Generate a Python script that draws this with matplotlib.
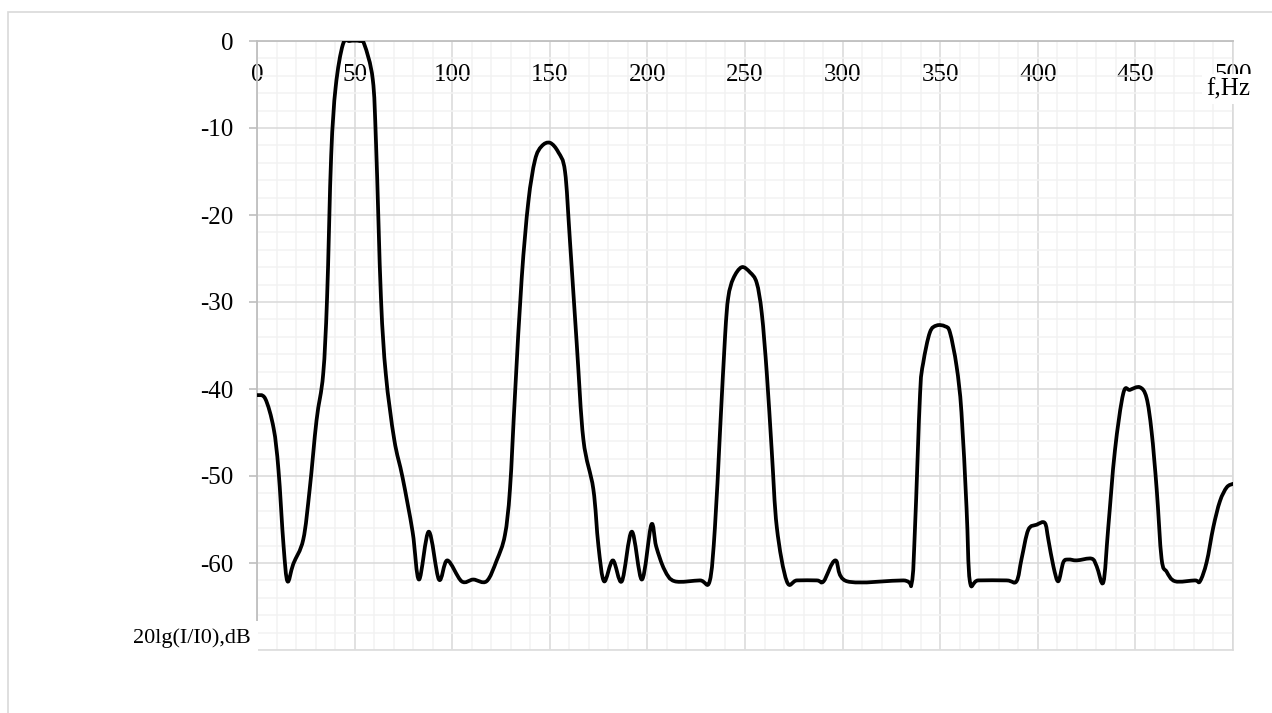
import matplotlib.pyplot as plt
from matplotlib.patches import Rectangle, PathPatch
from matplotlib.path import Path
from matplotlib.ticker import MultipleLocator

# values
freq_hz = [0, 4.2, 8.5, 11, 13.6, 15.6, 18.6, 23.7, 27, 30.5, 33.9, 35.9, 38, 40.3, 44, 47.5,
           52.5, 55, 59.3, 61, 63.5, 66, 70.3, 74.6, 79.7, 83, 88, 93.2, 97.5,
           104.8, 110.8, 117.6, 122.8, 127, 129.6, 132.2, 135.6, 139, 142.4, 145.8, 150.1,
           154.4, 157.8, 160.3, 163.8, 167.2, 172.3, 174.9, 177.8, 182.3, 186.9, 192, 197.2,
           202, 204.5, 208.8, 214, 226.9, 231.9, 234.6, 237.2, 239.8, 241.4, 244, 248.3,
           252.6, 256, 258.6, 261.2, 263.7, 266.3, 271.4, 276.6, 286.8, 290.3, 296.3, 302.2,
           331.1, 335.4, 337.1, 339.7, 341.3, 344.7, 348.2, 352.5, 355, 358.4, 360.9, 363.5,
           365.2, 369.5, 384, 389.1, 391.7, 395.1, 399.4, 403.6, 405.4, 408, 410.5, 413.1,
           415.7, 420, 427.6, 430.2, 433.6, 436.1, 439.5, 443.8, 447.2, 452.3, 455.7, 458.3,
           460.9, 463.4, 466, 470.3, 480.5, 483.1, 486.5, 489.9, 493.3, 496.8, 500]
level_db = [-40.7, -41.1, -44.5, -49.3, -58, -62.1, -60.1, -57.3, -51.5, -43.6, -38.3, -29.5,
            -13.2, -5.3, -0.4, 0, 0, -0.4, -4.4, -11.9, -29.5, -38.3, -45.8, -50.2, -56.4,
            -61.9, -56.4, -61.9, -59.7,
            -62.1, -61.9, -62.1, -59.7, -56.8, -51.5, -40.5, -27.3, -18.5, -13.7, -12.1, -11.7,
            -12.8, -15, -22.9, -34.8, -45.8, -51.5, -58, -62.1, -59.7, -62.1, -56.4, -61.9,
            -55.6, -58.1, -60.8, -62.1, -62, -62.1, -55.9, -44.9, -33.9, -29.5, -27.3, -26,
            -26.6, -27.8, -31.3, -38.3, -47.1, -55.9, -62.1, -62, -62, -62.1, -59.7, -62.1,
            -62, -62.3, -55.9, -40.5, -37, -33.5, -32.7, -32.8, -33.5, -37.4, -42.7, -53.7,
            -62.1, -62, -62, -62.1, -59.5, -56.2, -55.6, -55.4, -57.3, -60.4, -62.1, -59.9,
            -59.6, -59.7, -59.5, -60.4, -62.2, -55.9, -47.1, -40.5, -40.1, -39.8, -41, -44.9,
            -51.5, -59.5, -61, -62.1, -62, -62.1, -59.9, -55.9, -52.9, -51.3, -50.9]
x_ticks = [0, 50, 100, 150, 200, 250, 300, 350, 400, 450, 500]
y_ticks = [0, -10, -20, -30, -40, -50, -60]

W, H = 1272, 713
fig = plt.figure(figsize=(W / 100, H / 100), dpi=100)
plt.rcParams['font.family'] = ['Liberation Serif', 'DejaVu Serif']

# light frame around the chart
fig.patches.append(Rectangle((8 / W, -0.1), 1.2, 1.1 - 12 / H, transform=fig.transFigure,
                             fill=False, edgecolor='#d9d9d9', linewidth=1.2))

ax = fig.add_axes([257 / W, 63 / H, 976 / W, 609 / H])

# smoothed line like Excel: cubic bezier segments through the read points
pts = list(zip(freq_hz, level_db))
verts = [pts[0]]
codes = [Path.MOVETO]
n = len(pts)
for i in range(n - 1):
    p0 = pts[max(i - 1, 0)]
    p1 = pts[i]
    p2 = pts[i + 1]
    p3 = pts[min(i + 2, n - 1)]
    c1 = (p1[0] + (p2[0] - p0[0]) / 6, p1[1] + (p2[1] - p0[1]) / 6)
    c2 = (p2[0] - (p3[0] - p1[0]) / 6, p2[1] - (p3[1] - p1[1]) / 6)
    verts += [c1, c2, p2]
    codes += [Path.CURVE4] * 3
curve = PathPatch(Path(verts, codes), facecolor='none', edgecolor='black', linewidth=2.7,
                  joinstyle='round', capstyle='round', zorder=3)
ax.add_patch(curve)

ax.set_xlim(0, 500)
ax.set_ylim(-70, 0)
ax.xaxis.set_minor_locator(MultipleLocator(10))
ax.yaxis.set_minor_locator(MultipleLocator(2))
ax.set_xticks(x_ticks)
ax.set_yticks(y_ticks)
ax.set_xticklabels([str(v) for v in x_ticks])
ax.set_yticklabels([str(v) for v in y_ticks])

ax.grid(which='major', color='#d9d9d9', linewidth=1.1)
ax.grid(which='minor', color='#f2f2f2', linewidth=1.1)
ax.set_axisbelow(True)

for side in ['bottom', 'right']:
    ax.spines[side].set_color('#d9d9d9')
    ax.spines[side].set_linewidth(1.1)
for side in ['top', 'left']:
    ax.spines[side].set_color('#bfbfbf')
    ax.spines[side].set_linewidth(1.3)

ax.tick_params(axis='x', which='both', bottom=False, top=False, labelbottom=False,
               labeltop=True, pad=-36, labelsize=18)
ax.tick_params(axis='y', which='major', direction='out', length=6, width=1.2,
               color='#bfbfbf', pad=11, labelsize=18)
ax.tick_params(axis='y', which='minor', left=False)

# axis titles sit on white boxes, like the original
fig.text(1228 / W, 1 - 89 / H, 'f,Hz', fontsize=18, ha='center', va='center',
         bbox=dict(facecolor='white', edgecolor='none', pad=3))
fig.text(251 / W, 1 - 638 / H, '20lg(I/I0),dB', fontsize=16, ha='right', va='center',
         bbox=dict(facecolor='white', edgecolor='none', pad=5))

fig.savefig('out.png', dpi=100)
